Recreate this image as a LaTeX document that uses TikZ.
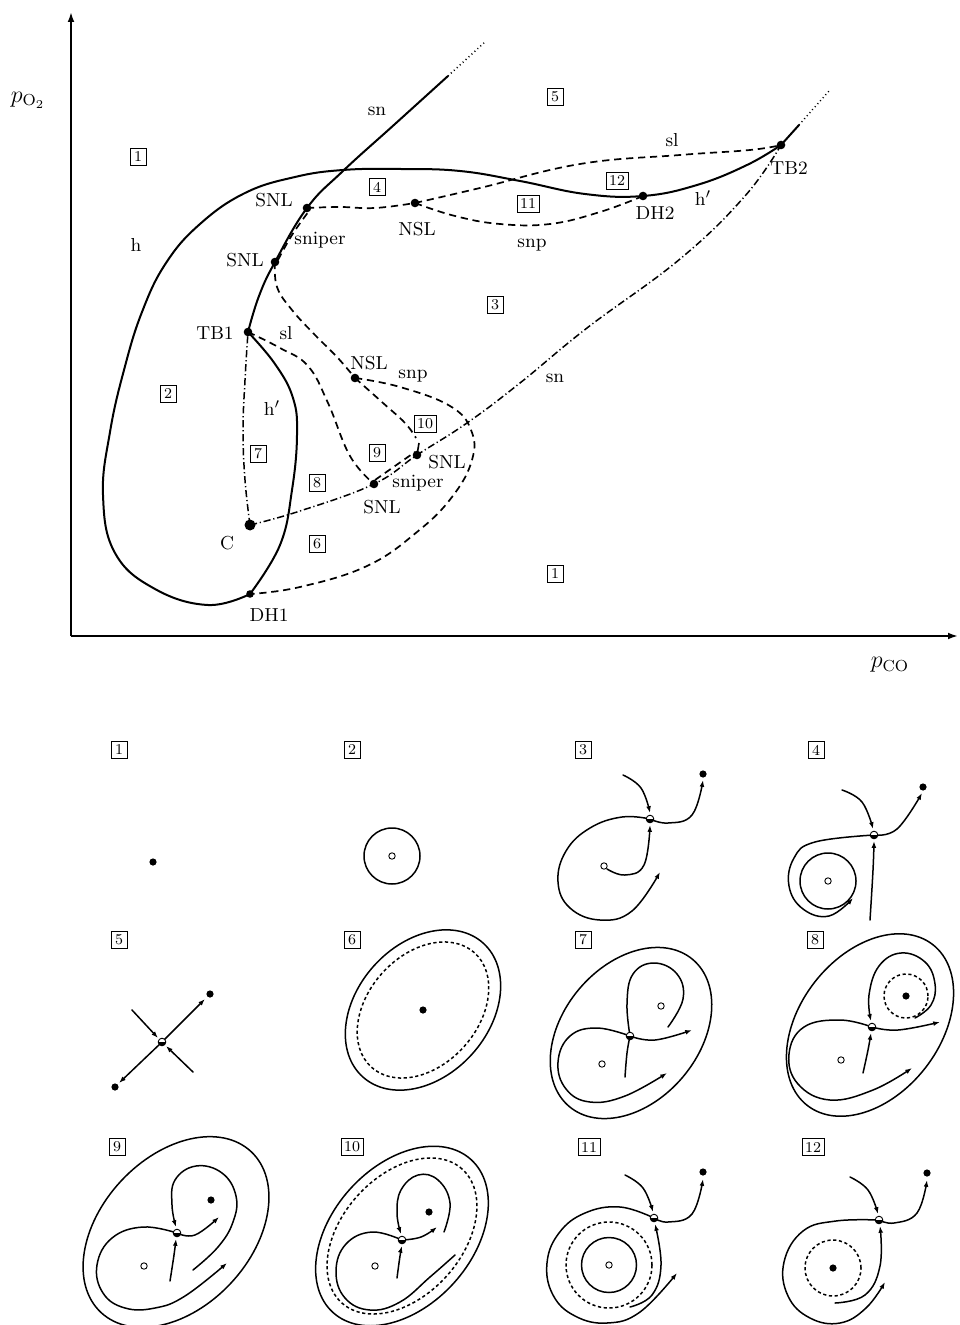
\documentclass[tikz,border=0pt]{standalone}
\usetikzlibrary{arrows.meta}
\begin{document}
\begin{tikzpicture}[x=0.5pt,y=-0.5pt,
  axis/.style={line width=0.9pt,-{Latex[length=5pt,width=3.4pt]}},
  branch/.style={line width=1pt, line cap=round, line join=round},
  dsh/.style={line width=0.85pt, dash pattern=on 3.6pt off 2.4pt},
  dashdot/.style={line width=0.75pt, dash pattern=on 3.6pt off 1.4pt on 0.6pt off 1.4pt},
  dotext/.style={line width=0.75pt, dash pattern=on 0.5pt off 1.5pt},
  bdot/.style={circle, fill=black, inner sep=0pt, minimum size=4.3pt},
  lab/.style={font=\fontsize{9.4}{11}\selectfont, inner sep=0pt},
  axlab/.style={font=\fontsize{12}{14}\selectfont, inner sep=0pt},
  reg/.style={draw, line width=0.4pt, font=\fontsize{7.5}{8}\selectfont, inner xsep=1.5pt, inner ysep=1pt, minimum width=8pt, minimum height=8.4pt},
  orb/.style={line width=0.75pt, line cap=round, line join=round},
  orbd/.style={line width=0.75pt, dash pattern=on 1.6pt off 1.3pt},
  arr/.style={-{Latex[length=3.4pt,width=2.4pt]}},
  sdot/.style={circle, fill=black, inner sep=0pt, minimum size=3.6pt},
  udot/.style={circle, draw, line width=0.45pt, fill=white, inner sep=0pt, minimum size=3.2pt},
  sad/.style={circle, draw, line width=0.45pt, fill=white, inner sep=0pt, minimum size=3.8pt,
    path picture={\fill[black] (path picture bounding box.west) rectangle (path picture bounding box.south east);}},
  sm/.style={smooth, tension=0.7},
]
\fill[white] (0,0) rectangle (959,1325);
\useasboundingbox (0,0) rectangle (959,1325);

% ---------------- bifurcation diagram ----------------
\coordinate (O) at (71,636);
\coordinate (ytop) at (71,12);
\coordinate (xend) at (958,636);
\draw[axis] (O) -- (ytop);
\draw[axis] (O) -- (xend);
\node[axlab] (ylab) at (28,100) {$p_{\mathrm{O}_2}$};
\node[axlab] (xlab) at (890,665) {$p_{\mathrm{CO}}$};

\coordinate (SNLa) at (307,208);
\coordinate (SNLb) at (275,262);
\coordinate (NSLa) at (415,203);
\coordinate (TBa) at (248,332);
\coordinate (DHb) at (643,196);
\coordinate (TBb) at (781,145);
\coordinate (NSLb) at (355,378);
\coordinate (SNLc) at (417,455);
\coordinate (SNLd) at (374,484);
\coordinate (Cpt) at (250,525);
\coordinate (DHa) at (250,594);
\coordinate (snTop) at (448,76);
\coordinate (snFar) at (485,42);
\coordinate (hTop) at (799,125);
\coordinate (hFar) at (829,91);

% saddle-node curve sn down to TB1
\draw[branch] plot[sm] coordinates {(TBa) (259,296) (SNLb) (SNLa) (343,171) (395,124) (snTop)};
\draw[dotext] (snTop) -- (snFar);
% Hopf curve h' from TB1 to DH1
\draw[branch] plot[sm] coordinates {(TBa) (275,364) (293,398) (297,435) (292,490) (280,545) (DHa)};
% Hopf curve h, then h' up to TB2
\draw[branch] plot[sm] coordinates {(DHa) (208,605) (155,589) (115,553) (103,495) (110,432) (124,370) (142,312) (166,263) (200,224) (245,193) (295,177) (343,170) (400,169) (460,171) (520,181) (585,194) (DHb) (697,185) (747,165) (TBb)};
\draw[branch] (TBb) -- (hTop);
\draw[dotext] (hTop) -- (hFar);

% global bifurcation curves (dashed)
\draw[dsh] plot[sm] coordinates {(SNLa) (340,207) (375,208) (NSLa)};
\draw[dsh] plot[sm] coordinates {(NSLa) (480,188) (580,164) (680,155) (750,150) (TBb)};
\draw[dsh] plot[sm] coordinates {(NSLa) (455,216) (500,224) (550,224) (600,212) (DHb)};
\draw[dsh] plot[sm] coordinates {(SNLb) (277,287) (292,310) (315,335) (337,357) (NSLb)};
\draw[dsh] plot[sm] coordinates {(NSLb) (383,403) (405,423) (416,438)};
\coordinate (tickTop) at (419,443);
\draw[line width=0.8pt] (tickTop) -- (SNLc);
\draw[dsh] plot[sm] coordinates {(NSLb) (400,387) (450,406) (471,430) (472,460) (452,497) (417,532) (367,566) (300,587) (DHa)};
\draw[dsh] plot[sm] coordinates {(TBa) (280,348) (308,366) (328,403) (350,456) (SNLd)};
% sniper segments
\coordinate (spA) at (278,260);
\coordinate (spB) at (309,211);
\draw[dsh] plot[sm] coordinates {(spA) (292,235) (spB)};
\coordinate (spC) at (375,480);
\coordinate (spD) at (415,452);
\draw[dsh] (spC) -- (spD);

% second saddle-node curve (dash-dot)
\draw[dashdot] plot[sm] coordinates {(Cpt) (245,480) (243,430) (245,380) (TBa)};
\draw[dashdot] plot[sm] coordinates {(Cpt) (300,511) (SNLd) (SNLc) (467,423) (520,383) (587,328) (680,259) (745,196) (TBb)};

% codimension-two points
\foreach \p in {SNLa,SNLb,NSLa,TBa,DHb,TBb,NSLb,SNLc,SNLd}
  \node[bdot] at (\p) {};
\node[bdot, minimum size=5.5pt] (Cdot) at (Cpt) {};
\node[bdot, minimum size=3.8pt] (DHadot) at (DHa) {};

% curve and point labels
\node[lab] (lsn1) at (377,111) {sn};
\node[lab] (lsn2) at (555,378) {sn};
\node[lab] (lh) at (136,245) {h};
\node[lab] (lhp1) at (272,408) {h$'$};
\node[lab] (lhp2) at (703,198) {h$'$};
\node[lab] (lsl1) at (286,333) {sl};
\node[lab] (lsl2) at (672,140) {sl};
\node[lab] (lsnp1) at (532,245) {snp};
\node[lab] (lsnp2) at (413,376) {snp};
\node[lab] (lSNL1) at (274,200) {SNL};
\node[lab] (lSNL2) at (245,260) {SNL};
\node[lab] (lNSL1) at (417,229) {NSL};
\node[lab] (lNSL2) at (369,363) {NSL};
\node[lab] (lTB1) at (215,333) {TB1};
\node[lab] (lTB2) at (789,168) {TB2};
\node[lab] (lDH2) at (655,213) {DH2};
\node[lab] (lDH1) at (269,615) {DH1};
\node[lab] (lC) at (227,543) {C};
\node[lab] (lSNL3) at (447,462) {SNL};
\node[lab] (lSNL4) at (382,507) {SNL};
\node[lab] (lsp1) at (320,240) {sniper};
\node[lab] (lsp2) at (418,483) {sniper};

% region numbers
\node[reg] (ra) at (138,157) {1};
\node[reg] (rb) at (555,574) {1};
\node[reg] (r2) at (168,394) {2};
\node[reg] (r3) at (495,305) {3};
\node[reg] (r4) at (377,187) {4};
\node[reg] (r5) at (555,97) {5};
\node[reg] (r6) at (317,544) {6};
\node[reg] (r7) at (258,454) {7};
\node[reg] (r8) at (317,483) {8};
\node[reg] (r9) at (377,453) {9};
\node[reg] (r10) at (425,424) {10};
\node[reg] (r11) at (528,204) {11};
\node[reg] (r12) at (617,181) {12};

% ---------------- phase portraits ----------------
% 1
\node[reg] (p1) at (119,750) {1};
\node[sdot] (N1) at (153,862) {};
% 2
\node[reg] (p2) at (352,750) {2};
\coordinate (C2) at (392,856);
\draw[orb] (C2) circle [radius=14pt];
\node[udot] (U2) at (C2) {};
% 3
\node[reg] (p3) at (583,750) {3};
\coordinate (S3) at (650,819);
\coordinate (N3) at (703,774);
\coordinate (U3) at (604,866);
\draw[orb,arr] plot[sm] coordinates {(623,775) (641,788) (650,813)};
\draw[orb,arr] plot[sm] coordinates {(S3) (668,823) (692,815) (703,780)};
\draw[orb,arr] plot[sm] coordinates {(607,869) (625,875) (644,865) (650,825)};
\draw[orb,arr] plot[sm] coordinates {(S3) (622,817) (590,828) (566,851) (558,882) (570,908) (600,920) (632,911) (660,872)};
\node[sad] at (S3) {};
\node[sdot] at (N3) {};
\node[udot] at (U3) {};
% 4
\node[reg] (p4) at (816,750) {4};
\coordinate (S4) at (874,835);
\coordinate (N4) at (923,787);
\coordinate (U4) at (828,881);
\draw[orb] (U4) circle [radius=14pt];
\draw[orb,arr] plot[sm] coordinates {(842,790) (862,802) (873,829)};
\draw[orb,arr] plot[sm] coordinates {(S4) (897,829) (922,793)};
\draw[orb,arr] plot[sm] coordinates {(870,920) (873,870) (874,841)};
\draw[orb,arr] plot[sm] coordinates {(S4) (815,842) (794,858) (789,886) (803,909) (829,916) (853,898)};
\node[sad] at (S4) {};
\node[sdot] at (N4) {};
\node[udot] at (U4) {};
% 5
\node[reg] (p5) at (119,940) {5};
\coordinate (S5) at (162,1042);
\coordinate (Na5) at (210,994);
\coordinate (Nb5) at (115,1087);
\coordinate (w5a) at (132,1010);
\coordinate (w5b) at (193,1072);
\draw[orb,arr] (w5a) -- (158,1038);
\draw[orb,arr] (w5b) -- (166,1046);
\draw[orb,arr] (S5) -- (205,999);
\draw[orb,arr] (S5) -- (119,1083);
\node[sad] at (S5) {};
\node[sdot] at (Na5) {};
\node[sdot] at (Nb5) {};
% 6
\node[reg] (p6) at (352,940) {6};
\coordinate (C6) at (423,1010);
\draw[orb, rotate around={48:(C6)}] (C6) ellipse [x radius=45pt, y radius=33pt];
\draw[orbd, rotate around={48:(C6)}] (C6) ellipse [x radius=38.5pt, y radius=27.5pt];
\node[sdot] at (C6) {};
% 7
\node[reg] (p7) at (583,940) {7};
\coordinate (C7) at (631,1033);
\coordinate (S7) at (630,1036);
\coordinate (Ua7) at (661,1006);
\coordinate (Ub7) at (602,1064);
\draw[orb, rotate around={50:(C7)}] (C7) ellipse [x radius=48pt, y radius=34pt];
\draw[orb,arr] plot[sm] coordinates {(S7) (597,1028) (570,1036) (558,1062) (566,1089) (590,1102) (625,1096) (667,1073)};
\draw[orb] plot[sm] coordinates {(S7) (627,1003) (633,974) (654,963) (677,974) (683,999) (668,1027)};
\draw[orb] plot[sm] coordinates {(625,1077) (627,1053) (S7)};
\draw[orb,arr] plot[sm] coordinates {(S7) (655,1040) (692,1030)};
\node[sad] at (S7) {};
\node[udot] at (Ua7) {};
\node[udot] at (Ub7) {};
% 8
\node[reg] (p8) at (815,940) {8};
\coordinate (C8) at (870,1025);
\coordinate (S8) at (872,1027);
\coordinate (N8) at (906,996);
\coordinate (U8) at (841,1060);
\draw[orb, rotate around={52:(C8)}] (C8) ellipse [x radius=51pt, y radius=35pt];
\draw[orbd] (N8) circle [radius=11pt];
\draw[orb,arr] plot[sm] coordinates {(915,1018) (931,1005) (935,984) (925,962) (901,953) (879,966) (869,995) (871,1021)};
\draw[orb,arr] plot[sm] coordinates {(S8) (898,1030) (940,1022)};
\draw[orb,arr] plot[sm] coordinates {(S8) (840,1020) (804,1027) (789,1054) (798,1084) (830,1100) (873,1090) (912,1068)};
\draw[orb,arr] plot[sm] coordinates {(863,1073) (868,1050) (871,1033)};
\node[sad] at (S8) {};
\node[sdot] at (N8) {};
\node[udot] at (U8) {};
% 9
\node[reg] (p9) at (117,1147) {9};
\coordinate (C9) at (176,1232);
\coordinate (S9) at (177,1233);
\coordinate (N9) at (211,1200);
\coordinate (U9) at (144,1266);
\draw[orb, rotate around={47:(C9)}] (C9) ellipse [x radius=55pt, y radius=37.5pt];
\draw[orb,arr] plot[sm] coordinates {(193,1270) (218,1247) (233,1222) (236,1196) (222,1173) (196,1166) (175,1180) (172,1205) (176,1227)};
\draw[orb,arr] plot[sm] coordinates {(S9) (195,1235) (219,1217)};
\draw[orb,arr] plot[sm] coordinates {(S9) (143,1227) (112,1238) (97,1265) (103,1293) (125,1308) (155,1308) (185,1296) (227,1263)};
\draw[orb,arr] plot[sm] coordinates {(170,1281) (174,1255) (176,1239)};
\node[sad] at (S9) {};
\node[sdot] at (N9) {};
\node[udot] at (U9) {};
% 10
\node[reg] (p10) at (352,1147) {10};
\coordinate (C10) at (402,1236);
\coordinate (S10) at (402,1240);
\coordinate (N10) at (429,1212);
\coordinate (U10) at (375,1266);
\draw[orb, rotate around={48:(C10)}] (C10) ellipse [x radius=51.5pt, y radius=35pt];
\draw[orbd, rotate around={48:(C10)}] (C10) ellipse [x radius=45pt, y radius=30pt];
\draw[orb,arr] plot[sm] coordinates {(444,1232) (450,1203) (438,1180) (418,1175) (401,1190) (397,1213) (401,1234)};
\draw[orb,arr] plot[sm] coordinates {(S10) (421,1237) (437,1227)};
\draw[orb] plot[sm] coordinates {(S10) (372,1232) (346,1244) (336,1271) (345,1298) (370,1310) (400,1302) (430,1277) (455,1255)};
\draw[orb,arr] plot[sm] coordinates {(397,1278) (400,1256) (402,1246)};
\node[sad] at (S10) {};
\node[sdot] at (N10) {};
\node[udot] at (U10) {};
% 11
\node[reg] (p11) at (589,1147) {11};
\coordinate (S11) at (654,1218);
\coordinate (N11) at (703,1172);
\coordinate (U11) at (609,1265);
\draw[orb] (U11) circle [radius=13.75pt];
\draw[orbd] (U11) circle [radius=21.5pt];
\draw[orb,arr] plot[sm] coordinates {(625,1175) (643,1188) (653,1212)};
\draw[orb,arr] plot[sm] coordinates {(S11) (668,1222) (692,1214) (703,1179)};
\draw[orb,arr] plot[sm] coordinates {(630,1307) (652,1295) (661,1265) (655,1224)};
\draw[orb,arr] plot[sm] coordinates {(S11) (620,1207) (585,1213) (559,1233) (547,1263) (553,1295) (575,1316) (607,1323) (640,1312) (677,1273)};
\node[sad] at (S11) {};
\node[sdot] at (N11) {};
\node[udot] at (U11) {};
% 12
\node[reg] (p12) at (813,1147) {12};
\coordinate (S12) at (879,1220);
\coordinate (Na12) at (927,1173);
\coordinate (Nb12) at (833,1268);
\draw[orbd] (Nb12) circle [radius=14pt];
\draw[orb,arr] plot[sm] coordinates {(850,1177) (868,1190) (878,1214)};
\draw[orb,arr] plot[sm] coordinates {(S12) (894,1223) (917,1213) (927,1180)};
\draw[orb,arr] plot[sm] coordinates {(835,1303) (865,1295) (880,1266) (880,1226)};
\draw[orb,arr] plot[sm] coordinates {(S12) (836,1221) (803,1231) (784,1262) (788,1296) (810,1318) (840,1323) (866,1308) (885,1282)};
\node[sad] at (S12) {};
\node[sdot] at (Na12) {};
\node[sdot] at (Nb12) {};
\end{tikzpicture}
\end{document}
